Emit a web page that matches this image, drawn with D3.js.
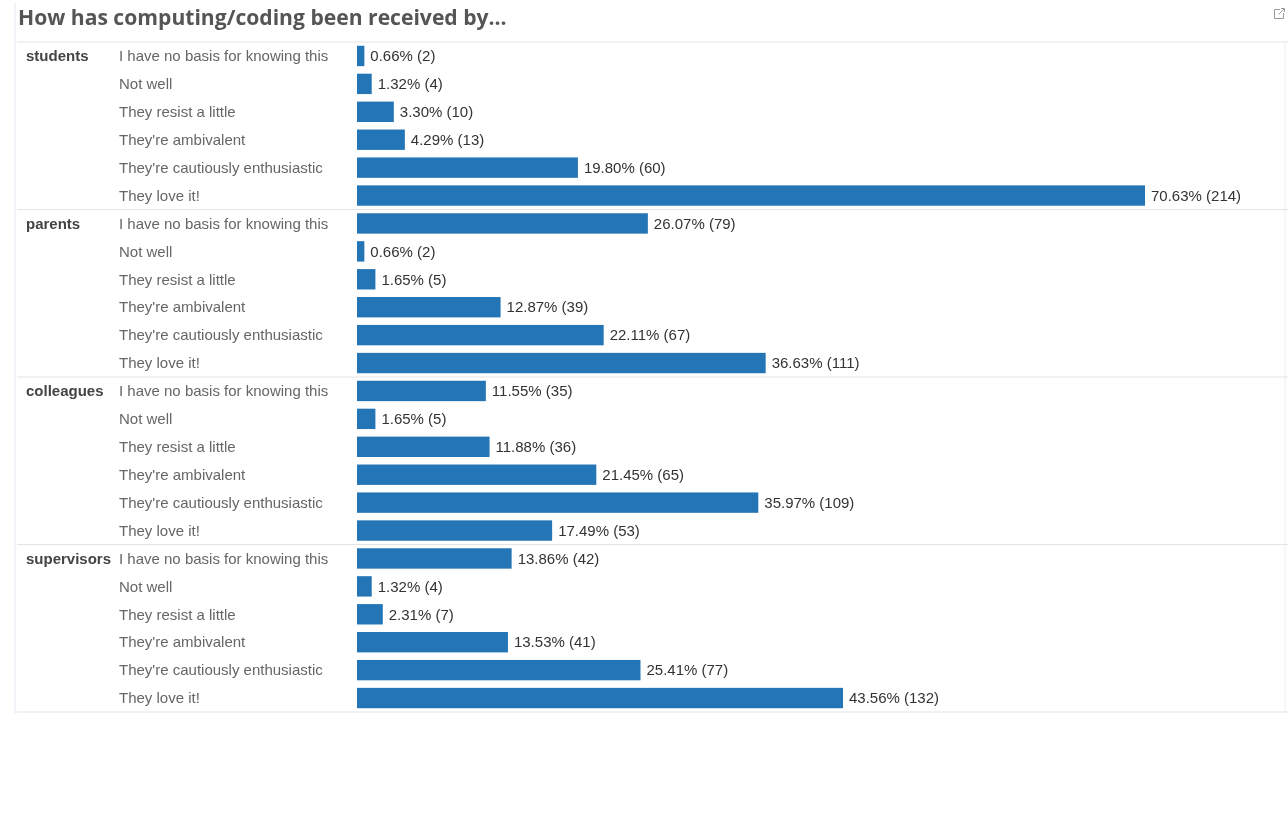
<!DOCTYPE html>
<html>
<head>
<meta charset="utf-8">
<script src="https://cdn.jsdelivr.net/npm/d3@7"></script>
<style>
  html, body { margin: 0; padding: 0; background: #fff; }
  svg { display: block; filter: blur(0.7px); }
</style>
</head>
<body>
<svg id="chart" width="1288" height="825"></svg>
<script>
// Survey responses: "How has computing/coding been received by..."
const groups = ["students", "parents", "colleagues", "supervisors"];
const answers = [
  "I have no basis for knowing this",
  "Not well",
  "They resist a little",
  "They're ambivalent",
  "They're cautiously enthusiastic",
  "They love it!"
];
// percentage of respondents, one array per group (in answer order)
const studentsPct    = [0.66, 1.32, 3.30, 4.29, 19.80, 70.63];
const parentsPct     = [26.07, 0.66, 1.65, 12.87, 22.11, 36.63];
const colleaguesPct  = [11.55, 1.65, 11.88, 21.45, 35.97, 17.49];
const supervisorsPct = [13.86, 1.32, 2.31, 13.53, 25.41, 43.56];
// response counts
const studentsN    = [2, 4, 10, 13, 60, 214];
const parentsN     = [79, 2, 5, 39, 67, 111];
const colleaguesN  = [35, 5, 36, 65, 109, 53];
const supervisorsN = [42, 4, 7, 41, 77, 132];

const pctByGroup = [studentsPct, parentsPct, colleaguesPct, supervisorsPct];
const nByGroup = [studentsN, parentsN, colleaguesN, supervisorsN];

const rows = [];
groups.forEach((g, gi) => {
  answers.forEach((a, ai) => {
    rows.push({ key: g + "|" + a, group: g, answer: a, first: ai === 0,
                pct: pctByGroup[gi][ai], n: nByGroup[gi][ai] });
  });
});

const svg = d3.select("#chart");
const panelTop = 42, panelBottom = 712, panelLeft = 15, panelRight = 1285;
const barX0 = 357, barX1 = 1145;

const x = d3.scaleLinear()
  .domain([0, d3.max(rows, d => d.pct)])
  .range([barX0, barX1]);

const y = d3.scaleBand()
  .domain(rows.map(d => d.key))
  .range([panelTop, panelBottom])
  .paddingInner(0.27)
  .paddingOuter(0.135);

const step = y.step();
const FONT = "'Liberation Sans', Arial, Helvetica, sans-serif";

// panel frame
svg.append("line")
  .attr("x1", panelLeft).attr("x2", panelLeft).attr("y1", 3).attr("y2", panelBottom + 2)
  .attr("stroke", "#e6ecf2").attr("stroke-width", 1.2);
svg.append("line")
  .attr("x1", panelRight).attr("x2", panelRight).attr("y1", panelTop).attr("y2", panelBottom)
  .attr("stroke", "#eeeeee").attr("stroke-width", 1);

// title
const title = svg.append("text")
  .attr("x", 18).attr("y", 25)
  .attr("font-family", "'Open Sans', 'DejaVu Sans', sans-serif")
  .attr("font-weight", "bold")
  .attr("font-size", 17)
  .attr("fill", "#555")
  .text("How has computing/coding been received by...");
const tw = title.node().getComputedTextLength();
title.attr("font-size", 17 * 489 / tw);

// external-link icon
const icon = svg.append("g").attr("transform", "translate(1274,8)")
  .attr("fill", "none").attr("stroke", "#9a9a9a").attr("stroke-width", 1);
icon.append("path").attr("d", "M6,1.5 H0.5 V10.5 H9.5 V5");
icon.append("path").attr("d", "M4.5,6.5 L10,1 M7,0.5 H10.5 V4");

// group separators
const seps = [panelTop].concat(groups.map((g, gi) => panelTop + step * 6 * (gi + 1)));
svg.selectAll("line.sep").data(seps).join("line")
  .attr("class", "sep")
  .attr("x1", panelLeft + 2).attr("x2", 1288)
  .attr("y1", d => d).attr("y2", d => d)
  .attr("stroke", "#e4e4e4").attr("stroke-width", 1.2);

// bars
svg.selectAll("rect.bar").data(rows).join("rect")
  .attr("class", "bar")
  .attr("x", x(0))
  .attr("y", d => y(d.key))
  .attr("width", d => x(d.pct) - x(0))
  .attr("height", y.bandwidth())
  .attr("fill", "#2475b5");

// group names
svg.selectAll("text.grp").data(rows.filter(d => d.first)).join("text")
  .attr("class", "grp")
  .attr("x", 26)
  .attr("y", d => y(d.key) + y.bandwidth() / 2)
  .attr("dy", "0.35em")
  .attr("font-family", FONT).attr("font-weight", "bold").attr("font-size", 15)
  .attr("fill", "#444")
  .text(d => d.group);

// answer labels
svg.selectAll("text.ans").data(rows).join("text")
  .attr("class", "ans")
  .attr("x", 119)
  .attr("y", d => y(d.key) + y.bandwidth() / 2)
  .attr("dy", "0.35em")
  .attr("font-family", FONT).attr("font-size", 15)
  .attr("fill", "#666")
  .text(d => d.answer);

// value labels
svg.selectAll("text.val").data(rows).join("text")
  .attr("class", "val")
  .attr("x", d => x(d.pct) + 6)
  .attr("y", d => y(d.key) + y.bandwidth() / 2)
  .attr("dy", "0.35em")
  .attr("font-family", FONT).attr("font-size", 15)
  .attr("fill", "#333")
  .text(d => d3.format(".2f")(d.pct) + "% (" + d.n + ")");
</script>
</body>
</html>
